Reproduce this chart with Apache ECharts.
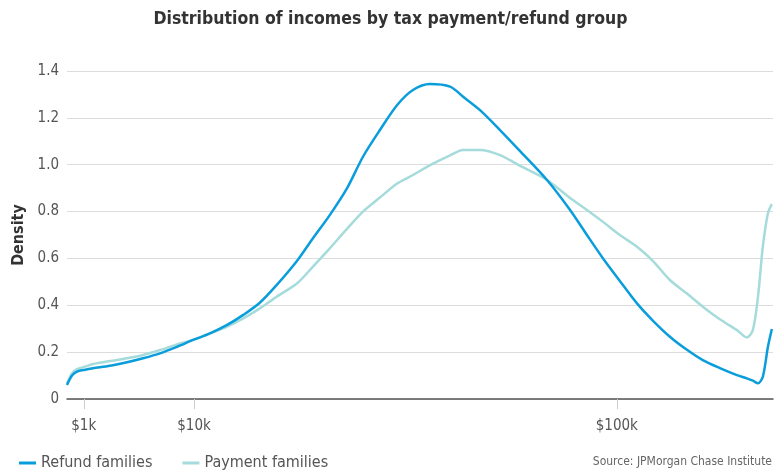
<!DOCTYPE html>
<html>
<head>
    <meta charset="utf-8">
    <title>Distribution of incomes</title>
    <script src="https://cdn.jsdelivr.net/npm/echarts@6/dist/echarts.min.js"></script>
</head>
<body style="margin:0">
    <div id="main" style="width:781px;height:474px"></div>
<script>
    // incomes in $k, shared by both series
    var incomeK = [0.38, 0.54, 0.72, 1.06, 1.44, 2.42, 3.60, 4.89, 6.42, 8.13, 9.89, 11.9, 14.1, 16.3, 18.7, 21.3,
        24.6, 27.3, 30.3, 33.5, 36.6, 40.0, 43.6, 47.0, 50.8, 55.4, 58.5, 62.6, 67.6, 72.8, 80.0, 86.4, 91.2,
        95.9, 100.9, 106.1, 111.0, 116.4, 121.9, 127.1, 132.8, 138.6, 142.0, 144.1, 145.9, 147.6, 149.4, 150.8];
    var refundDensity = [0.06, 0.10, 0.117, 0.125, 0.131, 0.142, 0.157, 0.174, 0.195, 0.223, 0.252, 0.28, 0.316, 0.359, 0.411, 0.487,
        0.59, 0.686, 0.785, 0.899, 1.034, 1.148, 1.255, 1.319, 1.344, 1.333, 1.29, 1.233, 1.148, 1.058, 0.935, 0.807, 0.70,
        0.60, 0.504, 0.408, 0.335, 0.266, 0.21, 0.166, 0.132, 0.102, 0.088, 0.078, 0.067, 0.095, 0.223, 0.299];
    var paymentDensity = [0.065, 0.11, 0.128, 0.138, 0.149, 0.162, 0.174, 0.188, 0.209, 0.233, 0.252, 0.28, 0.309, 0.344, 0.387, 0.437,
        0.494, 0.565, 0.643, 0.726, 0.80, 0.86, 0.92, 0.956, 0.998, 1.04, 1.063, 1.063, 1.041, 0.995, 0.935, 0.858, 0.807,
        0.756, 0.70, 0.65, 0.59, 0.508, 0.45, 0.394, 0.34, 0.294, 0.263, 0.294, 0.437, 0.65, 0.793, 0.832];
    var tickIncomes = [1, 10, 100];
    var tickLabels = ['$1k', '$10k', '$100k'];
    var yTicks = ['0', '0.2', '0.4', '0.6', '0.8', '1.0', '1.2', '1.4'];

    // the x axis is a compressed income scale
    var P = 0.5838;
    function tx(k) { return Math.pow(k, P); }

    function pairs(vals) {
        var out = [];
        for (var i = 0; i < incomeK.length; i++) out.push([tx(incomeK[i]), vals[i]]);
        return out;
    }
    var tickPos = tickIncomes.map(tx);

    var font = "'Liberation Sans Narrow', 'DejaVu Sans Condensed', sans-serif";
    var chart = echarts.init(document.getElementById('main'));
    var option = {
        animation: false,
        title: {
            text: 'Distribution of incomes by tax payment/refund group',
            left: 'center',
            top: 5,
            textStyle: { fontFamily: font, fontSize: 17.5, fontWeight: 'bold', color: '#333' }
        },
        legend: {
            left: 14,
            top: 450,
            icon: 'rect',
            itemWidth: 17,
            itemHeight: 3,
            itemGap: 30,
            textStyle: { fontFamily: font, fontSize: 16, color: '#555' },
            data: ['Refund families', 'Payment families']
        },
        graphic: [{
            type: 'text',
            right: 9,
            bottom: 6,
            style: { text: 'Source: JPMorgan Chase Institute', font: '12px ' + font, fill: '#666' }
        }],
        grid: { left: 67, right: 8, top: 71, bottom: 75 },
        xAxis: {
            type: 'value',
            min: tx(0.38),
            max: tx(151.2),
            axisLine: { lineStyle: { color: '#555', width: 1.5 } },
            axisTick: { show: true, customValues: tickPos, length: 10, lineStyle: { color: '#ccc' } },
            axisLabel: {
                customValues: tickPos,
                margin: 20,
                fontFamily: font, fontSize: 15, color: '#555',
                formatter: function (v) {
                    for (var i = 0; i < tickPos.length; i++) if (Math.abs(tickPos[i] - v) < 1e-6) return tickLabels[i];
                    return '';
                }
            },
            splitLine: { show: false }
        },
        yAxis: {
            type: 'value',
            min: 0,
            max: 1.4,
            interval: 0.2,
            name: 'Density',
            nameLocation: 'middle',
            nameGap: 40,
            nameTextStyle: { fontFamily: font, fontSize: 16, fontWeight: 'bold', color: '#333' },
            axisLine: { show: false },
            axisTick: { show: false },
            axisLabel: {
                margin: 8,
                fontFamily: font, fontSize: 15, color: '#555',
                formatter: function (v) { return yTicks[Math.round(v / 0.2)]; }
            },
            splitLine: { lineStyle: { color: '#ddd', width: 1 } }
        },
        series: [
            {
                name: 'Refund families',
                type: 'line',
                data: pairs(refundDensity),
                showSymbol: false,
                smooth: 0.3,
                z: 3,
                itemStyle: { color: '#0a9ddb' },
                lineStyle: { color: '#0a9ddb', width: 2.5 }
            },
            {
                name: 'Payment families',
                type: 'line',
                data: pairs(paymentDensity),
                showSymbol: false,
                smooth: 0.3,
                z: 2,
                itemStyle: { color: '#a6dbdb' },
                lineStyle: { color: '#a6dbdb', width: 2.5 }
            }
        ]
    };
    chart.setOption(option);
</script>
</body>
</html>
